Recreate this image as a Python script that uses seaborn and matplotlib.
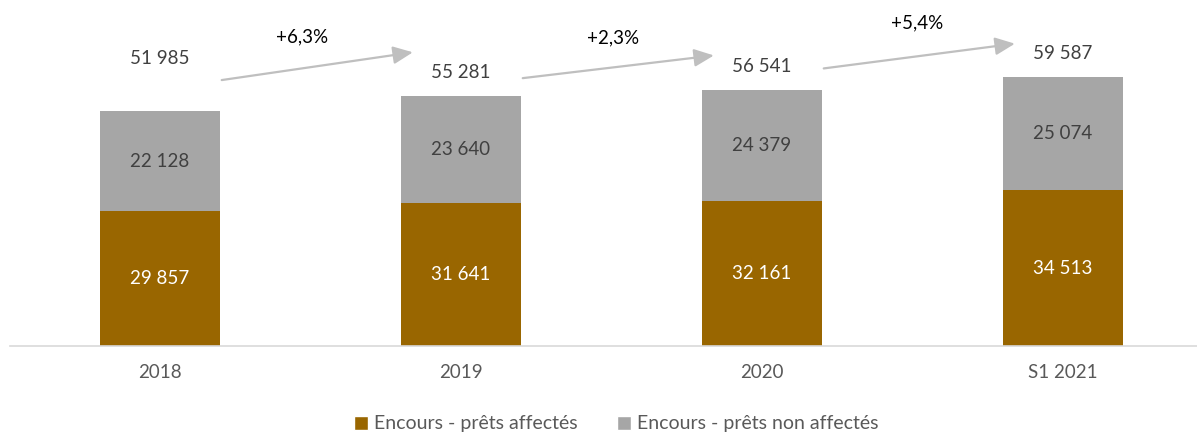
import numpy as np
import pandas as pd
import matplotlib
matplotlib.use("Agg")
import matplotlib.pyplot as plt
from matplotlib.patches import Patch
import seaborn as sns

# ---- data ----
periods = ["2018", "2019", "2020", "S1 2021"]
prets_affectes = [29857, 31641, 32161, 34513]
prets_non_affectes = [22128, 23640, 24379, 25074]
totaux = [51985, 55281, 56541, 59587]
croissance = ["+6,3%", "+2,3%", "+5,4%"]

BRUN = "#996600"
GRIS = "#A6A6A6"
TXT = "#404040"
FS = 13.5

def fmt(v):
    return f"{v:,}".replace(",", " ")

df = pd.DataFrame({"periode": periods, "affectes": prets_affectes,
                   "non_affectes": prets_non_affectes, "total": totaux})

sns.set_theme(style="white")
plt.rcParams["font.family"] = ["Lato", "DejaVu Sans"]

fig = plt.figure(figsize=(11.97, 4.33), dpi=100)
ax = fig.add_axes([9.5 / 1197, 87 / 433, 1187.5 / 1197, 346 / 433])

sns.barplot(data=df, x="periode", y="total", color=GRIS, width=0.4,
            saturation=1, linewidth=0, ax=ax)
sns.barplot(data=df, x="periode", y="affectes", color=BRUN, width=0.4,
            saturation=1, linewidth=0, ax=ax)

ax.set_xlim(-0.5, 3.445)
ax.set_ylim(0, 76550)
ax.set_xlabel("")
ax.set_ylabel("")
ax.set_yticks([])
sns.despine(ax=ax, left=True, right=True, top=True)
ax.spines["bottom"].set_color("#D9D9D9")
ax.spines["bottom"].set_linewidth(1.2)
ax.tick_params(axis="x", length=0, pad=13, labelsize=FS, labelcolor="#595959")

# étiquettes (décalages en points, 1 pt = 1.39 px)
for i in range(len(periods)):
    a, n, t = prets_affectes[i], prets_non_affectes[i], totaux[i]
    ax.text(i, a / 2, fmt(a), ha="center", va="center", color="white", fontsize=FS)
    ax.text(i, a + n / 2, fmt(n), ha="center", va="center", color=TXT, fontsize=FS)
    off = 37.5 if i == 0 else 17
    ax.annotate(fmt(t), (i, t), xytext=(0, off), textcoords="offset points",
                ha="center", va="center", color=TXT, fontsize=FS)

# flèches de croissance
arr_start = [6850, 3980, 4870]
arr_end = [9700, 7740, 7300]
pct_dx = [-11, -4, -1.5]
pct_dy = [11, 13, 15]
for i, lab in enumerate(croissance):
    x0, x1 = i + 0.205, i + 0.84
    y0 = totaux[i] + arr_start[i]
    y1 = totaux[i + 1] + arr_end[i]
    ax.annotate("", xy=(x1, y1), xytext=(x0, y0),
                arrowprops=dict(arrowstyle="-|>,head_length=1.0,head_width=0.45",
                                color="#BFBFBF", lw=1.6, shrinkA=0, shrinkB=0))
    ax.annotate(lab, ((x0 + x1) / 2, max(y0, y1)), xytext=(pct_dx[i], pct_dy[i]),
                textcoords="offset points", ha="center", va="center",
                color="black", fontsize=FS, annotation_clip=False)

handles = [Patch(facecolor=BRUN, label="Encours - prêts affectés"),
           Patch(facecolor=GRIS, label="Encours - prêts non affectés")]
leg = fig.legend(handles=handles, loc="center", bbox_to_anchor=(616 / 1197, 1 - 424 / 433),
                 ncol=2, frameon=False, fontsize=14, handlelength=0.75,
                 handleheight=0.75, handletextpad=0.3, columnspacing=2.0)
for t in leg.get_texts():
    t.set_color("#595959")

fig.savefig("out.png", dpi=100)
